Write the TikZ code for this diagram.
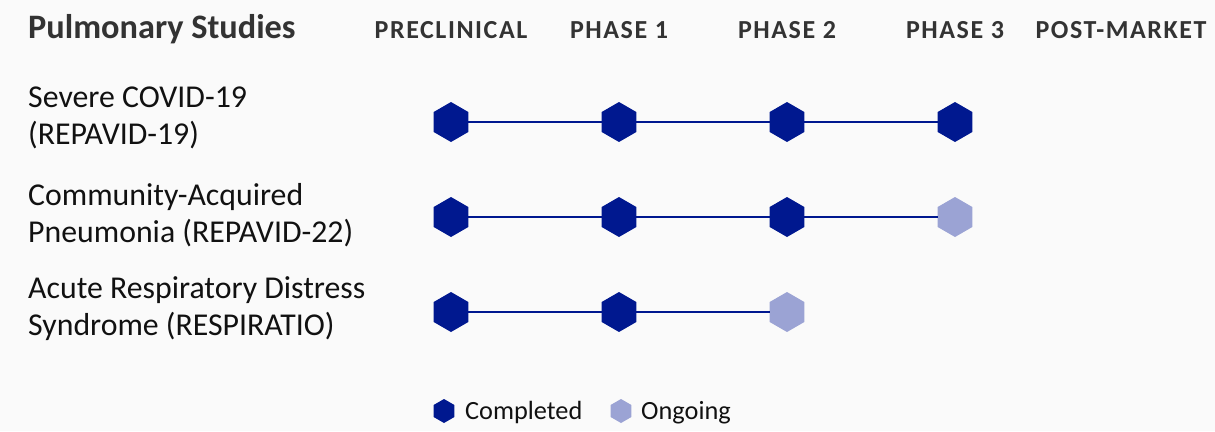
\documentclass[tikz,border=0pt]{standalone}
\usepackage{fontspec}
\setmainfont{Carlito}
\usetikzlibrary{shapes.geometric}
\definecolor{pagebg}{HTML}{FAFAFA}
\definecolor{done}{HTML}{00188F}
\definecolor{going}{HTML}{9BA3D4}
\definecolor{headtxt}{HTML}{333333}
\definecolor{bodytxt}{HTML}{111111}
\tikzset{
  hexmark/.style={regular polygon, regular polygon sides=6, shape border rotate=30,
    minimum size=40pt, inner sep=0pt, outer sep=0pt, draw=none},
  donehex/.style={hexmark, fill=done},
  goinghex/.style={hexmark, fill=going},
  smallhex/.style={minimum size=24pt},
  link/.style={draw=done, line width=1.6pt},
  phasehead/.style={anchor=base, text=headtxt,
    font=\fontsize{26}{30}\selectfont\bfseries\addfontfeature{LetterSpace=6}},
  studylabel/.style={anchor=base west, text=bodytxt, inner sep=0pt,
    font=\fontsize{31.8}{37}\selectfont},
  legendtxt/.style={anchor=base west, text=bodytxt, inner sep=0pt,
    font=\fontsize{26.3}{30}\selectfont},
}
\begin{document}
\begin{tikzpicture}[x=1pt, y=-1pt]
  \fill[pagebg] (0,0) rectangle (1215,431);
  \useasboundingbox (0,0) rectangle (1215,431);

  % title and phase headings
  \node[anchor=base west, inner sep=0pt, text=headtxt,
        font=\fontsize{34.3}{40}\selectfont\bfseries] (title) at (28,38) {Pulmonary Studies};
  \node[phasehead] (hpre) at (451,38) {PRECLINICAL};
  \node[phasehead] (hp1)  at (619,38) {PHASE 1};
  \node[phasehead] (hp2)  at (787,38) {PHASE 2};
  \node[phasehead] (hp3)  at (955,38) {PHASE 3};
  \node[phasehead] (hpm)  at (1121,38) {POST-MARKET};

  % study names
  \node[studylabel] (s1a) at (28,107) {Severe COVID-19};
  \node[studylabel] (s1b) at (28,144) {(REPAVID-19)};
  \node[studylabel] (s2a) at (28,205) {Community-Acquired};
  \node[studylabel] (s2b) at (28,242) {Pneumonia (REPAVID-22)};
  \node[studylabel] (s3a) at (28,298) {Acute Respiratory Distress};
  \node[studylabel] (s3b) at (28,335) {Syndrome (RESPIRATIO)};

  % Severe COVID-19
  \node[donehex] (a1) at (451,122) {};
  \node[donehex] (a2) at (619,122) {};
  \node[donehex] (a3) at (787,122) {};
  \node[donehex] (a4) at (955,122) {};
  \draw[link] (a1) -- (a2);
  \draw[link] (a2) -- (a3);
  \draw[link] (a3) -- (a4);

  % Community-acquired pneumonia
  \node[donehex]  (b1) at (451,217) {};
  \node[donehex]  (b2) at (619,217) {};
  \node[donehex]  (b3) at (787,217) {};
  \node[goinghex] (b4) at (955,217) {};
  \draw[link] (b1) -- (b2);
  \draw[link] (b2) -- (b3);
  \draw[link] (b3) -- (b4);

  % ARDS
  \node[donehex]  (c1) at (451,312) {};
  \node[donehex]  (c2) at (619,312) {};
  \node[goinghex] (c3) at (787,312) {};
  \draw[link] (c1) -- (c2);
  \draw[link] (c2) -- (c3);

  % legend
  \node[donehex, smallhex] (kdone) at (444,411) {};
  \node[legendtxt] (kdonet) at (465,419) {Completed};
  \node[goinghex, smallhex] (kgo) at (621,411) {};
  \node[legendtxt] (kgot) at (641,419) {Ongoing};
\end{tikzpicture}
\end{document}
